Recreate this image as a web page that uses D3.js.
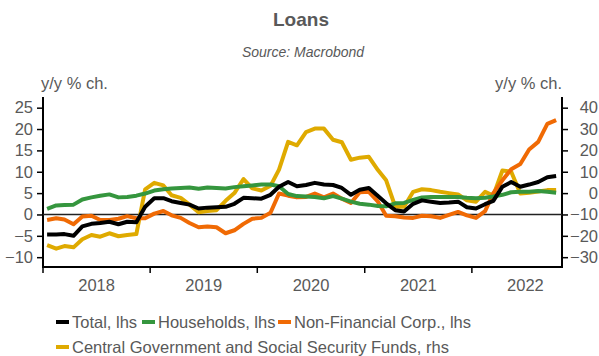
<!DOCTYPE html>
<html>
<head>
<meta charset="utf-8">
<script src="https://cdn.jsdelivr.net/npm/d3@7"></script>
<style>
  body { margin: 0; background: #fff; }
  svg { font-family: "Liberation Sans", Arial, sans-serif; }
  .txt { fill: #595959; }
</style>
</head>
<body>
<svg width="599" height="356"></svg>
<script>
// monthly, Jan 2018 .. Oct 2022
const startYear = 2018, startMonth = 0;

const total = [-4.7, -4.7, -4.6, -5.0, -2.8, -2.2, -2.0, -1.7, -2.3, -1.7, -1.8, 1.8,
  3.8, 3.8, 3.1, 2.7, 2.3, 1.4, 1.6, 1.7, 1.8, 2.5, 3.9, 3.8,
  3.7, 4.6, 6.5, 7.6, 6.6, 6.9, 7.4, 7.0, 6.9, 6.2, 4.6, 5.8,
  6.2, 4.3, 2.6, 1.0, 0.7, 2.5, 3.3, 3.0, 2.7, 2.8, 3.0, 1.7,
  1.4, 2.4, 3.2, 6.5, 7.6, 6.5, 7.0, 7.6, 8.7, 9.0];

const households = [1.3, 2.1, 2.2, 2.3, 3.5, 4.0, 4.4, 4.7, 4.0, 4.1, 4.4, 4.9,
  5.6, 5.9, 6.1, 6.2, 6.3, 6.0, 6.3, 6.2, 6.1, 6.4, 6.6, 6.8,
  7.0, 7.0, 6.6, 4.8, 4.3, 4.2, 4.1, 3.8, 4.3, 3.7, 3.0, 2.5,
  2.3, 2.0, 1.9, 2.6, 2.7, 3.4, 4.0, 4.1, 4.1, 4.1, 4.1, 3.9,
  3.8, 3.9, 4.2, 4.6, 5.2, 5.3, 5.3, 5.5, 5.3, 5.1];

const nonFinCorp = [-1.3, -0.9, -1.2, -2.3, -0.5, -0.3, -1.3, -1.3, -1.0, -0.4, -0.9, -0.9,
  0.2, 0.8, -0.2, -0.8, -2.0, -3.0, -2.8, -3.0, -4.4, -3.7, -2.2, -1.0,
  -0.8, 0.4, 4.9, 4.4, 4.0, 4.1, 4.9, 4.0, 4.9, 3.7, 2.7, 5.2,
  5.3, 3.0, -0.3, -0.4, -0.7, -0.8, -0.3, -0.4, -0.8, -0.1, 0.6, -0.2,
  -0.8, 0.8, 5.0, 8.0, 10.6, 11.8, 15.2, 17.0, 21.2, 22.1];

const centralGov = [-24.4, -26.0, -24.8, -25.4, -21.6, -19.6, -20.4, -18.8, -20.2, -19.6, -19.2, 1.8,
  4.8, 3.6, -1.0, -2.2, -5.4, -9.0, -8.4, -8.0, -3.6, 0.0, 6.6, 2.2,
  1.2, 3.4, 11.0, 24.0, 22.4, 28.6, 30.2, 30.2, 25.0, 23.8, 15.6, 16.6,
  17.0, 10.8, 6.0, -6.4, -6.4, 0.6, 1.8, 1.4, 0.6, 0.0, -0.6, -3.4,
  -4.0, 0.6, -1.2, 10.6, 10.0, -0.2, 0.2, 0.8, 1.4, 1.4];

const leftTicks = [-10, -5, 0, 5, 10, 15, 20, 25];
const rightTicks = [-30, -20, -10, 0, 10, 20, 30, 40];
const years = [2018, 2019, 2020, 2021, 2022];

const seriesList = [
  { name: "Central Government and Social Security Funds, rhs", values: centralGov, color: "#dfaa00", axis: "right" },
  { name: "Non-Financial Corp., lhs", values: nonFinCorp, color: "#f06a04", axis: "left" },
  { name: "Households, lhs", values: households, color: "#35963e", axis: "left" },
  { name: "Total, lhs", values: total, color: "#000000", axis: "left" }
];
const legendOrder = ["Total, lhs", "Households, lhs", "Non-Financial Corp., lhs",
  "Central Government and Social Security Funds, rhs"];

const svg = d3.select("svg");
const margin = { top: 97, right: 37, bottom: 89, left: 43 };
const W = 599, H = 356;
const fs = "16.5px";

const dateOf = i => new Date(startYear, startMonth + i, 15);

const x = d3.scaleTime()
  .domain([new Date(2018, 0, 1), new Date(2022, 10, 4)])
  .range([margin.left, W - margin.right]);
const yL = d3.scaleLinear().domain([-12.3, 27.5]).range([H - margin.bottom, margin.top]);
const yR = d3.scaleLinear().domain([-34.6, 45]).range([H - margin.bottom, margin.top]);

// titles
svg.append("text").attr("class", "txt")
  .attr("x", 301).attr("y", 26).attr("text-anchor", "middle")
  .style("font-size", "19px").style("font-weight", "bold").text("Loans");
svg.append("text").attr("class", "txt")
  .attr("x", 303).attr("y", 57).attr("text-anchor", "middle")
  .style("font-size", "14px").style("font-style", "italic").text("Source: Macrobond");

svg.append("text").attr("class", "txt").attr("x", 41).attr("y", 89)
  .style("font-size", fs).text("y/y % ch.");
svg.append("text").attr("class", "txt").attr("x", 562).attr("y", 89)
  .attr("text-anchor", "end").style("font-size", fs).text("y/y % ch.");

// axes
const leftAxis = d3.axisLeft(yL).tickValues(leftTicks).tickSize(6).tickPadding(4);
const rightAxis = d3.axisRight(yR).tickValues(rightTicks).tickSize(6).tickPadding(4);

const gl = svg.append("g").attr("transform", `translate(${margin.left},0)`).call(leftAxis);
const gr = svg.append("g").attr("transform", `translate(${W - margin.right},0)`).call(rightAxis);
[gl, gr].forEach(g => {
  g.select(".domain").attr("stroke", "#000").attr("stroke-width", 2)
    .attr("d", `M0,${margin.top}V${H - margin.bottom + 1}`);
  g.selectAll(".tick line").attr("stroke", "#000").attr("stroke-width", 1.5);
  g.selectAll(".tick text").attr("fill", "#595959")
    .style("font-size", fs).style("font-family", "Liberation Sans, Arial, sans-serif");
});
gr.selectAll(".tick text").attr("text-anchor", "end").attr("x", 36);

// bottom axis
const gx = svg.append("g").attr("transform", `translate(0,${H - margin.bottom})`);
gx.append("line").attr("x1", margin.left - 1).attr("x2", W - margin.right + 1)
  .attr("stroke", "#000").attr("stroke-width", 2);
gx.selectAll(".yt").data(years).join("line")
  .attr("x1", d => x(new Date(d, 0, 1))).attr("x2", d => x(new Date(d, 0, 1)))
  .attr("y1", 0).attr("y2", 6).attr("stroke", "#000").attr("stroke-width", 1.5);
gx.selectAll(".yl").data(years).join("text")
  .attr("fill", "#595959").style("font-size", fs)
  .attr("x", d => (x(new Date(d, 0, 1)) + x(new Date(d + 1, 0, 1))) / 2)
  .attr("y", 24).attr("text-anchor", "middle").text(d => d);

// zero line
svg.append("line").attr("x1", margin.left).attr("x2", W - margin.right)
  .attr("y1", yL(0)).attr("y2", yL(0)).attr("stroke", "#222").attr("stroke-width", 1.5);

// series
seriesList.forEach(s => {
  const yy = s.axis === "left" ? yL : yR;
  const line = d3.line().x((d, i) => x(dateOf(i))).y(d => yy(d));
  svg.append("path").datum(s.values)
    .attr("fill", "none").attr("stroke", s.color).attr("stroke-width", 4)
    .attr("stroke-linejoin", "round").attr("d", line);
});

// legend
const colorOf = n => seriesList.find(s => s.name === n).color;
const legendPos = [[56, 322], [142, 322], [278, 322], [56, 347]];
legendOrder.forEach((n, i) => {
  const [lx, ly] = legendPos[i];
  svg.append("line").attr("x1", lx).attr("x2", lx + 13).attr("y1", ly).attr("y2", ly)
    .attr("stroke", colorOf(n)).attr("stroke-width", 4);
  svg.append("text").attr("class", "txt").attr("x", lx + 16).attr("y", ly + 6)
    .style("font-size", fs).text(n);
});
</script>
</body>
</html>
